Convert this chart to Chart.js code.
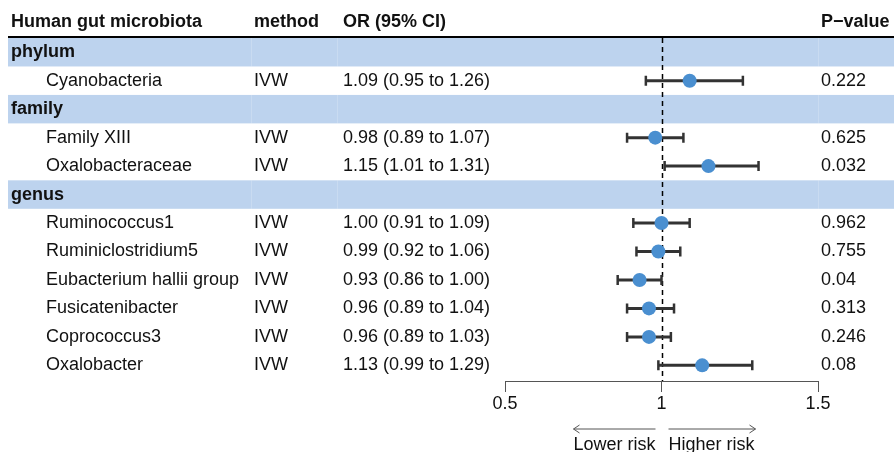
<!DOCTYPE html>
<html>
<head>
<meta charset="utf-8">
<title>Human gut microbiota forest plot</title>
<script src="https://cdn.jsdelivr.net/npm/chart.js@4.4.1/dist/chart.umd.min.js"></script>
<style>
    html, body { margin: 0; padding: 0; background: #fff; }
    #forest { display: block; }
</style>
</head>
<body>
<canvas id="forest" width="894" height="452"></canvas>
<script>
// data
const groupNames = [ 'phylum', 'family', 'genus' ];
const taxa = [ 'Cyanobacteria', 'Family XIII', 'Oxalobacteraceae', 'Ruminococcus1', 'Ruminiclostridium5',
    'Eubacterium hallii group', 'Fusicatenibacter', 'Coprococcus3', 'Oxalobacter' ];
const taxonGroup = [ 0, 1, 1, 2, 2, 2, 2, 2, 2 ];
const methods = [ 'IVW', 'IVW', 'IVW', 'IVW', 'IVW', 'IVW', 'IVW', 'IVW', 'IVW' ];
const orValues = [ 1.09, 0.98, 1.15, 1.00, 0.99, 0.93, 0.96, 0.96, 1.13 ];
const ciLower = [ 0.95, 0.89, 1.01, 0.91, 0.92, 0.86, 0.89, 0.89, 0.99 ];
const ciUpper = [ 1.26, 1.07, 1.31, 1.09, 1.06, 1.00, 1.04, 1.03, 1.29 ];
const pValues = [ '0.222', '0.625', '0.032', '0.962', '0.755', '0.04', '0.313', '0.246', '0.08' ];
const xTicks = [ 0.5, 1, 1.5 ];
const headers = [ 'Human gut microbiota', 'method', 'OR (95% CI)', 'P\u2212value' ];

const FONT = '"Liberation Sans", Arial, sans-serif';
const colors = {
    band: '#bdd3ee',
    text: '#111111',
    bar: '#333333',
    point: '#4a8fd0',
    axis: '#555555'
};
// left edge of each text column
const colX = { name: 11, item: 46, method: 254, or: 343, p: 821 };
const colLines = [ 251, 337, 818 ];

// rows in display order: group header, then its taxa
const rows = [];
const rowOfTaxon = [];
groupNames.forEach( ( g, gi ) =>
{
    rows.push( { kind: 'group', label: g } );
    taxa.forEach( ( t, ti ) =>
    {
        if ( taxonGroup[ ti ] !== gi ) return;
        rows.push( { kind: 'item', idx: ti } );
        rowOfTaxon[ ti ] = rows.length;
    } );
} );

function fmtCI ( i )
{
    return orValues[ i ].toFixed( 2 ) + ' (' + ciLower[ i ].toFixed( 2 ) + ' to ' + ciUpper[ i ].toFixed( 2 ) + ')';
}

const forestTable = {
    id: 'forestTable',
    beforeDatasetsDraw ( chart )
    {
        const { ctx, chartArea, scales: { x, y } } = chart;
        const W = chart.width;
        ctx.save();

        // group bands
        rows.forEach( ( r, i ) =>
        {
            if ( r.kind !== 'group' ) return;
            const a = y.getPixelForValue( i + 0.5 );
            const b = y.getPixelForValue( i + 1.5 );
            ctx.fillStyle = colors.band;
            ctx.fillRect( 8, Math.min( a, b ), W - 8, Math.abs( b - a ) );
            ctx.strokeStyle = 'rgba(255,255,255,0.18)';
            ctx.lineWidth = 1;
            colLines.forEach( cx =>
            {
                ctx.beginPath();
                ctx.moveTo( cx + 0.5, Math.min( a, b ) );
                ctx.lineTo( cx + 0.5, Math.max( a, b ) );
                ctx.stroke();
            } );
        } );

        // header rule
        const ruleY = y.getPixelForValue( 0.5 ) - 1;
        ctx.strokeStyle = '#000';
        ctx.lineWidth = 2;
        ctx.beginPath();
        ctx.moveTo( 8, ruleY );
        ctx.lineTo( W, ruleY );
        ctx.stroke();

        // reference line at OR = 1
        const x1 = Math.round( x.getPixelForValue( 1 ) ) + 0.5;
        ctx.setLineDash( [ 5, 4 ] );
        ctx.lineWidth = 1.5;
        ctx.beginPath();
        ctx.moveTo( x1, chartArea.top );
        ctx.lineTo( x1, chartArea.bottom );
        ctx.stroke();
        ctx.setLineDash( [] );

        // confidence intervals
        ctx.strokeStyle = colors.bar;
        ctx.lineCap = 'butt';
        taxa.forEach( ( t, i ) =>
        {
            const py = y.getPixelForValue( rowOfTaxon[ i ] );
            const lo = x.getPixelForValue( ciLower[ i ] );
            const hi = x.getPixelForValue( ciUpper[ i ] );
            ctx.lineWidth = 3;
            ctx.beginPath();
            ctx.moveTo( lo, py );
            ctx.lineTo( hi, py );
            ctx.stroke();
            ctx.lineWidth = 2.5;
            ctx.beginPath();
            ctx.moveTo( lo, py - 5 );
            ctx.lineTo( lo, py + 5 );
            ctx.moveTo( hi, py - 5 );
            ctx.lineTo( hi, py + 5 );
            ctx.stroke();
        } );
        ctx.restore();
    },
    afterDraw ( chart )
    {
        const { ctx, scales: { x, y } } = chart;
        ctx.save();
        ctx.fillStyle = colors.text;
        ctx.textBaseline = 'middle';
        ctx.textAlign = 'left';

        // header row
        const hy = y.getPixelForValue( 0 ) - 2;
        ctx.font = 'bold 18px ' + FONT;
        ctx.fillText( headers[ 0 ], colX.name, hy );
        ctx.fillText( headers[ 1 ], colX.method, hy );
        ctx.fillText( headers[ 2 ], colX.or, hy );
        ctx.fillText( headers[ 3 ], colX.p, hy );

        rows.forEach( ( r, i ) =>
        {
            const py = y.getPixelForValue( i + 1 );
            if ( r.kind === 'group' )
            {
                ctx.font = 'bold 18px ' + FONT;
                ctx.fillText( r.label, colX.name, py );
                return;
            }
            ctx.font = '18px ' + FONT;
            ctx.fillText( taxa[ r.idx ], colX.item, py );
            ctx.fillText( methods[ r.idx ], colX.method, py );
            ctx.fillText( fmtCI( r.idx ), colX.or, py );
            ctx.fillText( pValues[ r.idx ], colX.p, py );
        } );

        // risk direction arrows under the axis
        const x1 = x.getPixelForValue( 1 );
        const ay = 429;
        ctx.strokeStyle = colors.axis;
        ctx.lineWidth = 1;
        ctx.beginPath();
        ctx.moveTo( x1 - 6, ay );
        ctx.lineTo( x1 - 88, ay );
        ctx.moveTo( x1 - 82, ay - 4 );
        ctx.lineTo( x1 - 88, ay );
        ctx.lineTo( x1 - 82, ay + 4 );
        ctx.moveTo( x1 + 7, ay );
        ctx.lineTo( x1 + 94, ay );
        ctx.moveTo( x1 + 88, ay - 4 );
        ctx.lineTo( x1 + 94, ay );
        ctx.lineTo( x1 + 88, ay + 4 );
        ctx.stroke();

        ctx.font = '18px ' + FONT;
        ctx.textAlign = 'right';
        ctx.fillText( 'Lower risk', x1 - 6, 445 );
        ctx.textAlign = 'left';
        ctx.fillText( 'Higher risk', x1 + 7, 445 );
        ctx.restore();
    }
};

new Chart( document.getElementById( 'forest' ), {
    type: 'scatter',
    data: {
        datasets: [ {
            data: taxa.map( ( t, i ) => ( { x: orValues[ i ], y: rowOfTaxon[ i ] } ) ),
            backgroundColor: colors.point,
            borderWidth: 0,
            pointRadius: 7,
            pointHoverRadius: 7
        } ]
    },
    options: {
        responsive: false,
        animation: false,
        events: [],
        layout: {
            padding: { top: 38, left: 505, right: 76, bottom: 0 }
        },
        plugins: {
            legend: { display: false },
            tooltip: { enabled: false }
        },
        scales: {
            x: {
                type: 'linear',
                min: xTicks[ 0 ],
                max: xTicks[ xTicks.length - 1 ],
                afterBuildTicks: scale => { scale.ticks = xTicks.map( v => ( { value: v } ) ); },
                afterFit: scale => { scale.height = 71; },
                border: { color: colors.axis, width: 1 },
                grid: {
                    drawOnChartArea: false,
                    drawTicks: true,
                    tickLength: 11,
                    tickColor: colors.axis
                },
                ticks: {
                    color: colors.text,
                    padding: 1,
                    maxRotation: 0,
                    font: { family: FONT, size: 18 },
                    callback: v => String( v )
                }
            },
            y: {
                type: 'linear',
                display: false,
                reverse: true,
                min: 0.5,
                max: rows.length + 0.55
            }
        }
    },
    plugins: [ forestTable ]
} );
</script>
</body>
</html>
